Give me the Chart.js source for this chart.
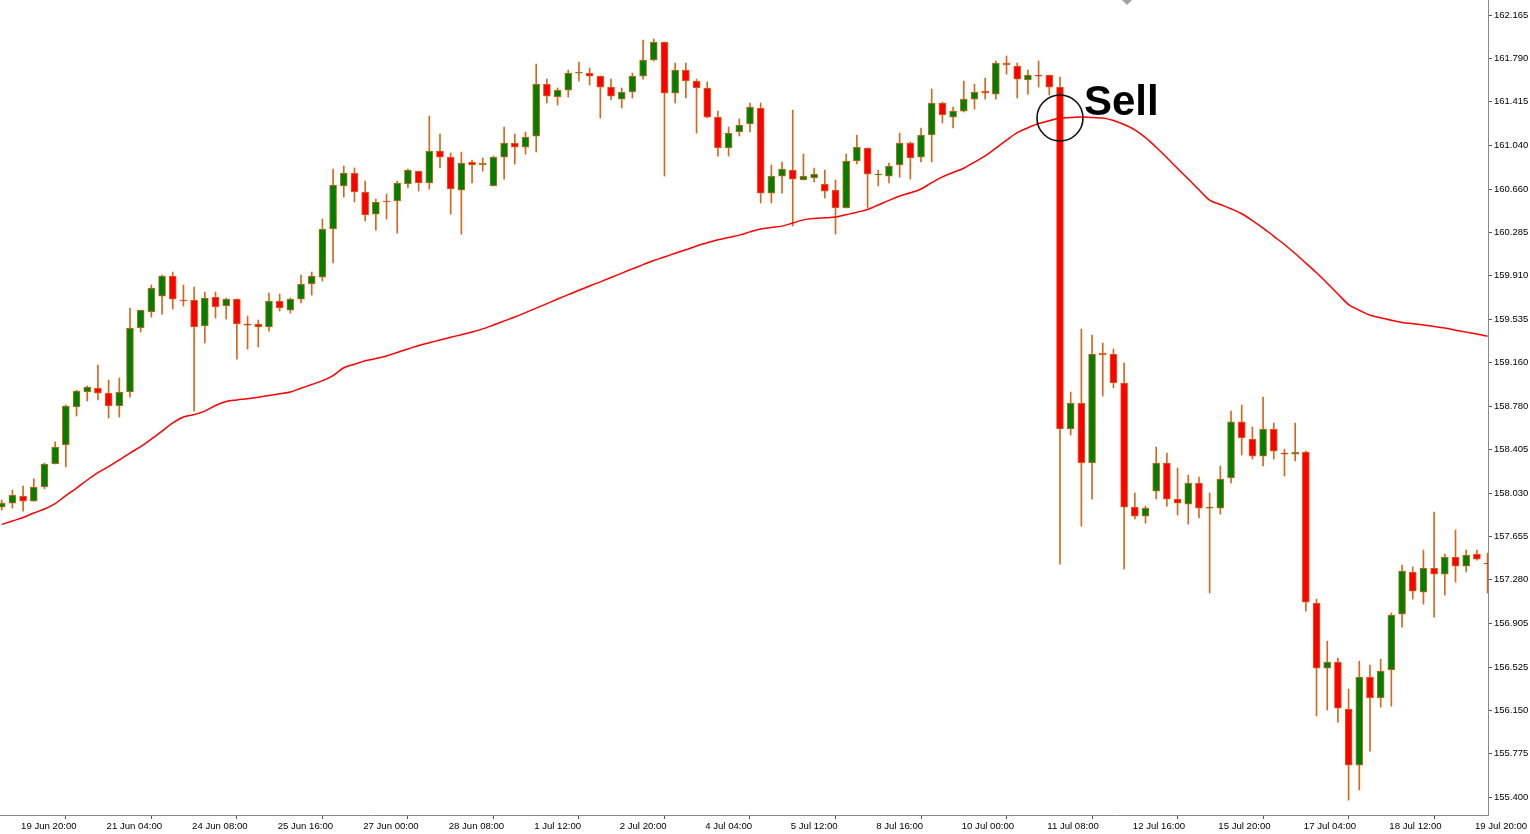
<!DOCTYPE html>
<html><head><meta charset="utf-8">
<script src="https://cdn.jsdelivr.net/npm/chart.js@4.4.1/dist/chart.umd.min.js"></script>
<style>html,body{margin:0;padding:0;background:#fff;overflow:hidden}#wrap{width:1530px;height:834px;position:relative;background:#fff}</style>
</head><body><div id="wrap"><canvas id="c" width="1530" height="834"></canvas></div>
<script>
const opens=[157.908,157.943,158.004,157.960,158.082,158.281,158.446,158.774,158.904,158.939,
158.895,158.783,158.904,159.458,159.596,159.734,159.907,159.700,159.700,159.475,
159.725,159.648,159.708,159.492,159.492,159.466,159.691,159.613,159.708,159.838,
159.898,160.314,160.686,160.798,160.634,160.443,160.556,160.556,160.703,160.815,
160.712,160.988,160.936,160.651,160.894,160.868,160.686,160.936,161.058,161.023,
161.118,161.568,161.456,161.516,161.663,161.663,161.637,161.542,161.438,161.499,
161.637,161.776,161.932,161.490,161.689,161.594,161.534,161.282,161.015,161.153,
161.222,161.360,160.625,160.772,160.824,160.738,160.755,160.703,160.651,160.496,
160.902,161.015,160.781,160.772,160.868,161.058,160.936,161.127,161.404,161.282,
161.334,161.438,161.507,161.481,161.750,161.724,161.603,161.646,161.646,161.542,
158.584,158.809,158.290,159.241,159.232,158.982,157.908,157.831,158.047,158.290,
157.978,157.934,158.117,157.900,157.900,158.160,158.645,158.497,158.350,158.584,
158.376,158.367,158.385,157.078,156.516,156.568,156.161,155.677,156.438,156.257,
156.499,156.983,157.347,157.173,157.381,157.329,157.476,157.398,157.502,157.424];
const highs=[157.969,158.056,158.091,158.152,158.290,158.472,158.792,158.921,158.956,159.138,
159.008,159.025,159.631,159.613,159.830,159.916,159.942,159.830,159.812,159.769,
159.769,159.717,159.708,159.561,159.527,159.760,159.751,159.717,159.916,159.942,
160.400,160.833,160.859,160.842,160.729,160.573,160.616,160.729,160.833,160.815,
161.291,161.135,160.971,160.980,160.911,160.928,160.945,161.196,161.135,161.153,
161.741,161.611,161.534,161.689,161.759,161.706,161.637,161.611,161.534,161.663,
161.949,161.958,161.932,161.750,161.750,161.611,161.586,161.334,161.196,161.265,
161.404,161.404,160.868,160.894,161.343,160.962,160.842,160.824,160.738,160.962,
161.127,161.015,160.824,160.885,161.144,161.067,161.188,161.525,161.413,161.369,
161.594,161.568,161.620,161.767,161.811,161.750,161.689,161.767,161.646,161.628,
158.904,159.449,159.397,159.328,159.275,159.155,158.030,157.917,158.428,158.376,
158.247,158.186,158.168,158.030,158.264,158.739,158.792,158.601,158.860,158.636,
158.410,158.636,158.393,157.113,156.749,156.602,156.334,156.576,156.542,156.593,
156.992,157.407,157.390,157.537,157.866,157.502,157.710,157.537,157.537,157.511];
const lows=[157.883,157.900,157.874,157.960,158.065,158.281,158.255,158.696,158.826,158.835,
158.679,158.687,158.860,159.423,159.552,159.578,159.622,159.648,158.739,159.328,
159.544,159.535,159.189,159.276,159.293,159.431,159.604,159.587,159.674,159.743,
159.864,160.020,160.590,160.548,160.383,160.305,160.400,160.279,160.669,160.642,
160.660,160.842,160.443,160.270,160.712,160.815,160.686,160.746,160.876,160.962,
160.980,161.404,161.387,161.456,161.594,161.560,161.274,161.430,161.361,161.447,
161.611,161.767,160.772,161.404,161.447,161.144,161.274,160.945,160.945,161.118,
161.153,160.539,160.539,160.625,160.340,160.738,160.721,160.582,160.270,160.496,
160.876,160.496,160.686,160.712,160.763,160.746,160.894,160.894,161.231,161.188,
161.326,161.352,161.438,161.438,161.654,161.447,161.481,161.542,161.473,157.415,
158.532,157.744,157.978,158.869,158.939,157.372,157.805,157.770,157.978,157.917,
157.840,157.761,157.814,157.165,157.848,158.117,158.359,158.324,158.264,158.324,
158.177,158.307,157.009,156.101,156.153,156.049,155.374,155.461,155.798,156.178,
156.187,156.870,157.113,157.069,156.957,157.148,157.260,157.347,157.450,157.165];
const closes=[157.943,158.013,157.960,158.082,158.281,158.428,158.783,158.912,158.947,158.895,
158.783,158.904,159.458,159.613,159.804,159.907,159.708,159.691,159.466,159.717,
159.639,159.708,159.492,159.483,159.466,159.691,159.631,159.708,159.838,159.907,
160.314,160.695,160.798,160.634,160.435,160.548,160.548,160.712,160.824,160.712,
160.988,160.936,160.660,160.885,160.868,160.885,160.936,161.058,161.023,161.109,
161.568,161.464,161.516,161.663,161.672,161.637,161.542,161.464,161.499,161.637,
161.776,161.932,161.490,161.689,161.594,161.534,161.282,161.015,161.144,161.214,
161.369,160.625,160.772,160.833,160.746,160.772,160.789,160.642,160.496,160.902,
161.023,160.789,160.789,160.859,161.058,160.928,161.127,161.404,161.300,161.334,
161.438,161.499,161.490,161.750,161.733,161.611,161.646,161.637,161.542,158.584,
158.809,158.290,159.232,159.224,158.982,157.908,157.831,157.900,158.290,157.978,
157.943,158.117,157.900,157.908,158.151,158.645,158.506,158.350,158.584,158.393,
158.367,158.385,157.087,156.516,156.568,156.170,155.677,156.438,156.257,156.490,
156.975,157.355,157.182,157.381,157.329,157.476,157.398,157.494,157.459,157.416];
const ma=[157.758,157.788,157.818,157.857,157.892,157.939,158.008,158.073,158.143,158.207,
158.259,158.316,158.376,158.432,158.497,158.566,158.636,158.688,158.709,158.739,
158.787,158.822,158.835,158.846,158.859,158.874,158.889,158.904,158.937,158.969,
159.002,159.046,159.114,159.144,159.175,159.193,159.216,159.246,159.276,159.307,
159.330,159.354,159.377,159.400,159.423,159.450,159.484,159.519,159.553,159.591,
159.630,159.669,159.708,159.746,159.784,159.821,159.857,159.894,159.932,159.969,
160.006,160.041,160.072,160.104,160.135,160.167,160.195,160.221,160.241,160.261,
160.289,160.315,160.327,160.339,160.366,160.393,160.405,160.411,160.417,160.438,
160.459,160.483,160.522,160.562,160.599,160.627,160.660,160.715,160.765,160.803,
160.840,160.893,160.946,161.014,161.083,161.148,161.190,161.226,161.250,161.274,
161.278,161.283,161.278,161.274,161.253,161.218,161.172,161.104,161.021,160.931,
160.838,160.746,160.653,160.563,160.526,160.489,160.446,160.387,160.322,160.251,
160.180,160.102,160.019,159.935,159.845,159.752,159.660,159.611,159.568,159.547,
159.525,159.506,159.495,159.483,159.471,159.457,159.439,159.422,159.405,159.387];
const xTickIndex=[2,10,18,26,34,42,50,58,66,74,82,90,98,106,114,122,130,138];
const xTickLabels=['19 Jun 20:00','21 Jun 04:00','24 Jun 08:00','25 Jun 16:00','27 Jun 00:00','28 Jun 08:00','1 Jul 12:00','2 Jul 20:00','4 Jul 04:00','5 Jul 12:00','8 Jul 16:00','10 Jul 00:00','11 Jul 08:00','12 Jul 16:00','15 Jul 20:00','17 Jul 04:00','18 Jul 12:00','19 Jul 20:00'];
const yTicks=[155.400,155.775,156.150,156.525,156.905,157.280,157.655,158.030,158.405,158.780,159.160,159.535,159.910,160.285,160.660,161.040,161.415,161.790,162.165];
const sellIndex=99;
const sellText='Sell';

const idx=opens.map((_,i)=>i);
const wickData=idx.map(i=>({x:i,y:[lows[i],highs[i]]}));
const bodyData=idx.map(i=>({x:i,y:[opens[i],closes[i]]}));
const bodyColors=idx.map(i=>closes[i]>=opens[i]?'#008000':'#FF0000');
const maData=idx.map(i=>({x:i,y:ma[i]}));

const annot={
  id:'annot',
  afterDatasetsDraw(chart){
    const c=chart.ctx, xs=chart.scales.x, ys=chart.scales.y;
    const cx=xs.getPixelForValue(sellIndex), cy=ys.getPixelForValue(ma[sellIndex]);
    c.save();
    c.beginPath();c.arc(cx,cy,23,0,Math.PI*2);
    c.strokeStyle='#111';c.lineWidth=1.6;c.stroke();
    c.fillStyle='#000';c.font='bold 42px "Liberation Sans", Arial, sans-serif';
    c.textBaseline='alphabetic';c.textAlign='left';
    c.fillText(sellText,cx+24,cy-3);
    const a=chart.chartArea;
    c.fillStyle='#A0A0A0';
    c.beginPath();c.moveTo(a.right-366,a.top);c.lineTo(a.right-356,a.top);c.lineTo(a.right-361,a.top+5);c.closePath();c.fill();
    c.restore();
  }
};

new Chart(document.getElementById('c'),{
  type:'bar',
  data:{datasets:[
    {type:'line',data:maData,borderColor:'#FF0000',borderWidth:1.5,pointRadius:0,cubicInterpolationMode:'monotone',order:0},
    {data:bodyData,backgroundColor:bodyColors,borderColor:'#D2691E',borderWidth:1,borderSkipped:false,barThickness:7,grouped:false,order:1},
    {data:wickData,backgroundColor:'#D2691E',borderWidth:0,barThickness:1,grouped:false,order:2}
  ]},
  options:{
    responsive:false,animation:false,devicePixelRatio:1,
    layout:{padding:0},
    plugins:{legend:{display:false},tooltip:{enabled:false}},
    scales:{
      x:{type:'linear',min:-0.16,max:139.04,bounds:'data',offset:false,position:'bottom',
        grid:{drawOnChartArea:false,drawTicks:true,tickLength:4,color:'#555'},
        border:{display:true,color:'#888',width:1},
        ticks:{autoSkip:false,maxRotation:0,minRotation:0,align:'start',labelOffset:-2,padding:2,color:'#000',
          font:{family:'"Liberation Sans", Arial, sans-serif',size:9.6},callback:(v,i)=>xTickLabels[i]},
        afterBuildTicks:s=>{s.ticks=xTickIndex.map(v=>({value:v}));},
        afterFit:s=>{s.height=19;s.paddingLeft=0;s.paddingRight=0;}
      },
      y:{type:'linear',position:'right',min:155.245,max:162.295,bounds:'data',
        grid:{drawOnChartArea:false,drawTicks:true,tickLength:4,color:'#555'},
        border:{display:true,color:'#888',width:1},
        ticks:{autoSkip:false,padding:2,color:'#000',
          font:{family:'"Liberation Sans", Arial, sans-serif',size:9.5},callback:v=>Number(v).toFixed(3)},
        afterBuildTicks:s=>{s.ticks=yTicks.map(v=>({value:v}));},
        afterFit:s=>{s.width=42;s.paddingTop=0;s.paddingBottom=0;}
      }
    }
  },
  plugins:[annot]
});
</script></body></html>
